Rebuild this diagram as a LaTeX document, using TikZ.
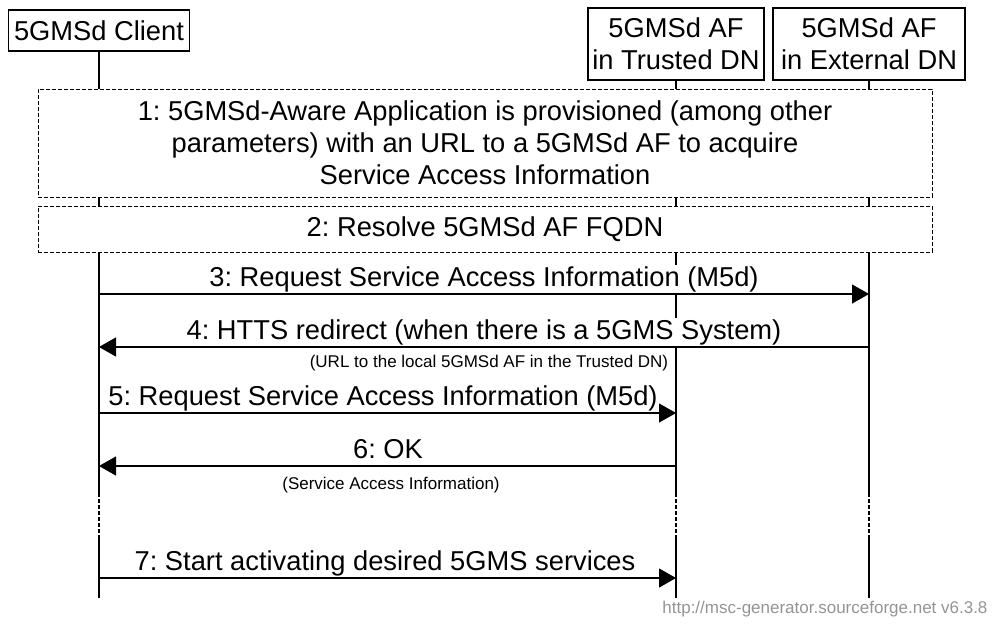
\documentclass[tikz,border=0pt]{standalone}
\usepackage{fontspec}
\setmainfont{Liberation Sans}
\usetikzlibrary{arrows.meta}
\frenchspacing
\begin{document}
\begin{tikzpicture}[x=1pt,y=-1pt,
  every node/.style={font=\fontsize{27.3}{32}\selectfont},
  entity/.style={draw, line width=1.1pt, fill=white, inner sep=0pt, align=center},
  note/.style={draw, line width=1pt, dash pattern=on 4pt off 2pt, fill=white, inner sep=0pt, align=center},
  lifeline/.style={line width=1.2pt},
  lifedash/.style={line width=1.2pt, dash pattern=on 4pt off 2pt},
  msg/.style={line width=1.1pt, -{Triangle[length=17pt,width=19pt]}},
  lbl/.style={fill=white, inner sep=1pt, anchor=base},
  small/.style={font=\fontsize{17}{20}\selectfont, fill=white, inner sep=1pt, anchor=base},
]
\useasboundingbox (0,0) rectangle (995,625);

% entities
\node[entity, minimum width=181pt, minimum height=41pt] (client) at (99,30.5) {5GMSd Client};
\node[entity, minimum width=176pt, minimum height=72pt] (trusted) at (676,44) {5GMSd AF\\in Trusted DN};
\node[entity, minimum width=192pt, minimum height=72pt] (external) at (869,44) {5GMSd AF\\in External DN};

% lifeline coordinates
\coordinate (cA) at (99,493);  \coordinate (cB) at (99,535);  \coordinate (cE) at (99,598);
\coordinate (tA) at (676,493); \coordinate (tB) at (676,535); \coordinate (tE) at (676,598);
\coordinate (eA) at (869,493); \coordinate (eB) at (869,535); \coordinate (eE) at (869,598);

\draw[lifeline] (client.south) -- (cA);
\draw[lifedash] (cA) -- (cB);
\draw[lifeline] (cB) -- (cE);
\draw[lifeline] (trusted.south) -- (tA);
\draw[lifedash] (tA) -- (tB);
\draw[lifeline] (tB) -- (tE);
\draw[lifeline] (external.south) -- (eA);
\draw[lifedash] (eA) -- (eB);
\draw[lifeline] (eB) -- (eE);

% notes
\node[note, minimum width=894pt, minimum height=108pt] (n1) at (485,143)
  {1: 5GMSd-Aware Application is provisioned (among other\\parameters) with an URL to a 5GMSd AF to acquire\\Service Access Information};
\node[note, minimum width=894pt, minimum height=46pt] (n2) at (485,229) {2: Resolve 5GMSd AF FQDN};

% message coordinates
\coordinate (c3) at (99,294);  \coordinate (e3) at (869,294);
\coordinate (c4) at (99,347);  \coordinate (e4) at (869,347);
\coordinate (c5) at (99,413);  \coordinate (t5) at (676,413);
\coordinate (c6) at (99,466);  \coordinate (t6) at (676,466);
\coordinate (c7) at (99,578);  \coordinate (t7) at (676,578);

% labels
\node[lbl] (l3) at (484,286) {3: Request Service Access Information (M5d)};
\node[lbl] (l4) at (484,339) {4: HTTS redirect (when there is a 5GMS System)};
\node[small] (l4s) at (489,367) {(URL to the local 5GMSd AF in the Trusted DN)};
\node[lbl] (l5) at (383,405) {5: Request Service Access Information (M5d)};
\node[lbl] (l6) at (388,458) {6: OK};
\node[small] (l6s) at (391,489) {(Service Access Information)};
\node[lbl] (l7) at (385,570) {7: Start activating desired 5GMS services};

% messages
\draw[msg] (c3) -- (e3);
\draw[msg] (e4) -- (c4);
\draw[msg] (c5) -- (t5);
\draw[msg] (t6) -- (c6);
\draw[msg] (c7) -- (t7);

% watermark
\node[anchor=base east, font=\fontsize{17}{20}\selectfont, text=black!42] (wm) at (991,613) {http://msc-generator.sourceforge.net v6.3.8};
\end{tikzpicture}
\end{document}
